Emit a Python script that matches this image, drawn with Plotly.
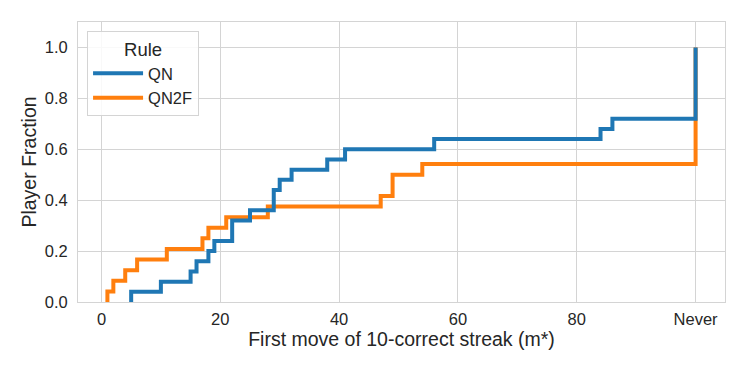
import plotly.graph_objects as go

# ---------------------------------------------------------------------------
# Datos: pasos de la ECDF (x = primer movimiento de la racha, 100 = "Never")
# ---------------------------------------------------------------------------
qn_x = [5, 5, 10, 15, 16, 18, 19, 22, 25, 29, 30, 32, 38, 41, 56, 84, 86, 100, 100]
qn_y = [0.0, 0.04, 0.08, 0.12, 0.16, 0.20, 0.24, 0.32, 0.36, 0.44, 0.48, 0.52,
        0.56, 0.60, 0.64, 0.68, 0.72, 0.72, 1.0]

qn2f_x = [1, 1, 2, 4, 6, 11, 17, 18, 21, 28, 47, 49, 54, 100, 100]
qn2f_y = [0.0, 0.0417, 0.0833, 0.125, 0.1667, 0.2083, 0.25, 0.2917, 0.3333,
          0.375, 0.4167, 0.5, 0.5417, 0.5417, 1.0]

x_ticks = [0, 20, 40, 60, 80, 100]
x_labels = ["0", "20", "40", "60", "80", "Never"]
y_ticks = [0.0, 0.2, 0.4, 0.6, 0.8, 1.0]

COLOR_QN = "#1f77b4"
COLOR_QN2F = "#ff7f0e"
GRID = "#d4d4d4"
FONT = "Liberation Sans, Arial, sans-serif"

fig = go.Figure()
fig.add_trace(go.Scatter(
    x=qn2f_x, y=qn2f_y, mode="lines", name="QN2F", line_shape="hv",
    line=dict(color=COLOR_QN2F, width=4), legendrank=2,
))
fig.add_trace(go.Scatter(
    x=qn_x, y=qn_y, mode="lines", name="QN", line_shape="hv",
    line=dict(color=COLOR_QN, width=4), legendrank=1,
))

# la página añade ~8 px de margen al body: se compensa en los márgenes
fig.update_layout(
    width=747, height=374,
    margin=dict(l=70, r=30, t=14, b=80),
    paper_bgcolor="white", plot_bgcolor="white",
    font=dict(family=FONT, size=16.5, color="#262626"),
    showlegend=True,
    legend=dict(
        title=dict(text="Rule", side="top center", font=dict(size=18.5)),
        x=0.014, y=0.968, xanchor="left", yanchor="top",
        bgcolor="rgba(255,255,255,0.85)", bordercolor=GRID, borderwidth=1,
        font=dict(size=16.5), itemwidth=50, tracegroupgap=2,
    ),
)
fig.update_xaxes(
    range=[-3.95, 104.95], tickvals=x_ticks, ticktext=x_labels,
    showgrid=True, gridcolor=GRID, gridwidth=1, zeroline=False,
    showline=True, linecolor=GRID, mirror=True, ticks="", automargin=False,
    ticklabelstandoff=2,
    title=dict(text="First move of 10-correct streak (m*)", font=dict(size=19.5), standoff=2),
)
fig.update_yaxes(
    range=[0, 1.1], tickvals=y_ticks, tickformat=".1f",
    showgrid=True, gridcolor=GRID, gridwidth=1, zeroline=False,
    showline=True, linecolor=GRID, mirror=True, ticks="", automargin=False,
    ticklabelstandoff=6,
    title=dict(text="Player Fraction", font=dict(size=19.5), standoff=2),
)

fig.write_html("out.html")
